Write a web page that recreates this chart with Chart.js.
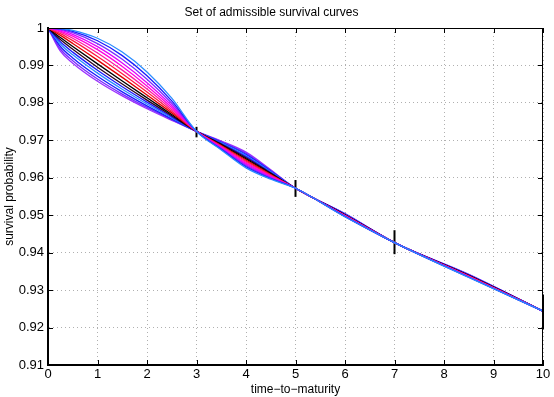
<!DOCTYPE html>
<html>
<head>
<meta charset="utf-8">
<script src="https://cdn.jsdelivr.net/npm/chart.js@4.4.1/dist/chart.umd.min.js"></script>
<style>
  html, body { margin: 0; padding: 0; background: #fff; }
  #wrap { width: 554px; height: 397px; }
</style>
</head>
<body>
<div id="wrap"><canvas id="survivalChart" width="554" height="397"></canvas></div>
<script>
// time grid (years) shared by all curves
var timeGrid = [0, 0.25, 0.5, 1, 1.5, 2, 2.5, 3, 3.5, 4, 4.5, 5, 6, 7, 8.5, 10];

// admissible survival curves (top curve near t=1 first)
var curve0  = [1, 0.99985, 0.99936, 0.99726, 0.99358, 0.98827, 0.98125, 0.9724, 0.96744, 0.96265, 0.95962, 0.9572, 0.94958, 0.9427, 0.93338, 0.9244];
var curve1  = [1, 0.99975, 0.99909, 0.99659, 0.99263, 0.98727, 0.98055, 0.9724, 0.96761, 0.96295, 0.95980, 0.9572, 0.94964, 0.9427, 0.93344, 0.9244];
var curve2  = [1, 0.99962, 0.99874, 0.99584, 0.99165, 0.98631, 0.97990, 0.9724, 0.96778, 0.96325, 0.95998, 0.9572, 0.94970, 0.9427, 0.93350, 0.9244];
var curve3  = [1, 0.99943, 0.99832, 0.99504, 0.99067, 0.98539, 0.97931, 0.9724, 0.96795, 0.96355, 0.96016, 0.9572, 0.94976, 0.9427, 0.93356, 0.9244];
var curve4  = [1, 0.99919, 0.99784, 0.99422, 0.98972, 0.98454, 0.97877, 0.9724, 0.96812, 0.96385, 0.96034, 0.9572, 0.94982, 0.9427, 0.93362, 0.9244];
var curve5  = [1, 0.99889, 0.99727, 0.99333, 0.98875, 0.98370, 0.97826, 0.9724, 0.96829, 0.96415, 0.96052, 0.9572, 0.94988, 0.9427, 0.93368, 0.9244];
var curve6  = [1, 0.99850, 0.99662, 0.99239, 0.98778, 0.98289, 0.97778, 0.9724, 0.96846, 0.96445, 0.96070, 0.9572, 0.94994, 0.9427, 0.93374, 0.9244];
var curve7  = [1, 0.99803, 0.99588, 0.99142, 0.98681, 0.98211, 0.97733, 0.9724, 0.96863, 0.96475, 0.96088, 0.9572, 0.95000, 0.9427, 0.93380, 0.9244];
var curve8  = [1, 0.99747, 0.99507, 0.99042, 0.98586, 0.98137, 0.97691, 0.9724, 0.96880, 0.96505, 0.96106, 0.9572, 0.95006, 0.9427, 0.93386, 0.9244];
var curve9  = [1, 0.99691, 0.99432, 0.98954, 0.98506, 0.98075, 0.97658, 0.9724, 0.96897, 0.96535, 0.96124, 0.9572, 0.95012, 0.9427, 0.93392, 0.9244];
var curve10 = [1, 0.99633, 0.99356, 0.98871, 0.98431, 0.98020, 0.97628, 0.9724, 0.96914, 0.96565, 0.96142, 0.9572, 0.95018, 0.9427, 0.93398, 0.9244];
var curve11 = [1, 0.99573, 0.99283, 0.98794, 0.98365, 0.97971, 0.97601, 0.9724, 0.96931, 0.96595, 0.96160, 0.9572, 0.95024, 0.9427, 0.93404, 0.9244];
var curve12 = [1, 0.99505, 0.99201, 0.98711, 0.98295, 0.97921, 0.97575, 0.9724, 0.96948, 0.96625, 0.96178, 0.9572, 0.95030, 0.9427, 0.93410, 0.9244];
var curve13 = [1, 0.99439, 0.99127, 0.98638, 0.98235, 0.97879, 0.97553, 0.9724, 0.96965, 0.96655, 0.96196, 0.9572, 0.95036, 0.9427, 0.93416, 0.9244];
var curve14 = [1, 0.99381, 0.99061, 0.98577, 0.98186, 0.97844, 0.97535, 0.9724, 0.96982, 0.96685, 0.96214, 0.9572, 0.95042, 0.9427, 0.93422, 0.9244];

var curveColors = ['#2a8cff', '#1a1aff', '#7a2cff', '#e000ff', '#ff00e0', '#ff1aa0', '#ff1a40', '#e00000',
                   '#000000', '#2a0020', '#1a1aff', '#2a8cff', '#1a1aff', '#7a2cff', '#9b30ff'];

// market quotes: bid/ask range of survival probability at the quoted maturities
var quoteTimes = [3, 5, 7, 10];
var quoteLow   = [0.9708, 0.9549, 0.9396, 0.9195];
var quoteHigh  = [0.9736, 0.9594, 0.9460, 0.9288];

var xTicks = [0, 1, 2, 3, 4, 5, 6, 7, 8, 9, 10];
var yTicks = [0.91, 0.92, 0.93, 0.94, 0.95, 0.96, 0.97, 0.98, 0.99, 1];

var allCurves = [curve0, curve1, curve2, curve3, curve4, curve5, curve6, curve7,
                 curve8, curve9, curve10, curve11, curve12, curve13, curve14];

var datasets = [];
for (var i = 0; i < allCurves.length; i++) {
    var pts = [];
    for (var j = 0; j < timeGrid.length; j++) {
        pts.push({x: timeGrid[j], y: allCurves[i][j]});
    }
    datasets.push({
        label: 'curve ' + (i + 1),
        data: pts,
        borderColor: curveColors[i],
        borderWidth: 1.3,
        pointRadius: 0,
        cubicInterpolationMode: 'monotone',
        fill: false
    });
}
// black vertical bars for the quotes
for (var k = 0; k < quoteTimes.length; k++) {
    datasets.push({
        label: 'quote ' + quoteTimes[k],
        data: [{x: quoteTimes[k], y: quoteLow[k]}, {x: quoteTimes[k], y: quoteHigh[k]}],
        borderColor: '#000000',
        borderWidth: 2,
        pointRadius: 0,
        clip: false,
        fill: false
    });
}

// matlab style box: top/right border + inward ticks
var boxPlugin = {
    id: 'matlabBox',
    afterDatasetsDraw: function(chart) {
        var ctx = chart.ctx, a = chart.chartArea;
        var xs = chart.scales.x, ys = chart.scales.y;
        ctx.save();
        ctx.strokeStyle = '#000';
        ctx.lineWidth = 1;
        ctx.beginPath();
        ctx.moveTo(a.left, a.top + 0.5); ctx.lineTo(a.right, a.top + 0.5);
        ctx.moveTo(a.right - 0.5, a.top); ctx.lineTo(a.right - 0.5, a.bottom);
        for (var i = 0; i < xs.ticks.length; i++) {
            var px = Math.round(xs.getPixelForTick(i)) + 0.5;
            ctx.moveTo(px, a.bottom); ctx.lineTo(px, a.bottom - 5);
            ctx.moveTo(px, a.top); ctx.lineTo(px, a.top + 5);
        }
        for (var j = 0; j < ys.ticks.length; j++) {
            var py = Math.round(ys.getPixelForTick(j)) + 0.5;
            ctx.moveTo(a.left, py); ctx.lineTo(a.left + 5, py);
            ctx.moveTo(a.right, py); ctx.lineTo(a.right - 5, py);
        }
        ctx.stroke();
        ctx.restore();
    }
};

var chart = new Chart(document.getElementById('survivalChart'), {
    type: 'line',
    data: { datasets: datasets },
    plugins: [boxPlugin],
    options: {
        responsive: false,
        animation: false,
        layout: { padding: { left: 0, right: 11, top: 0, bottom: 0 } },
        plugins: {
            legend: { display: false },
            tooltip: { enabled: false },
            title: {
                display: true,
                text: 'Set of admissible survival curves',
                color: '#000',
                font: { family: 'Liberation Sans', size: 12, weight: 'normal' },
                padding: { top: 5, bottom: 8.6 }
            }
        },
        scales: {
            x: {
                type: 'linear',
                min: 0, max: 10,
                afterBuildTicks: function(s) { s.ticks = xTicks.map(function(v) { return {value: v}; }); },
                afterFit: function(s) { s.height = 32; },
                ticks: { color: '#000', padding: 2, font: { family: 'Liberation Sans', size: 13 } },
                grid: { color: '#b0b0b0', lineWidth: 1, drawTicks: false, tickLength: 0 },
                border: { display: true, color: '#000', width: 2, dash: [1, 3] },
                title: { display: true, text: 'time\u2212to\u2212maturity', color: '#000',
                         font: { family: 'Liberation Sans', size: 12 }, padding: { top: 0, bottom: 0 } }
            },
            y: {
                type: 'linear',
                min: 0.91, max: 1,
                afterBuildTicks: function(s) { s.ticks = yTicks.map(function(v) { return {value: v}; }); },
                afterFit: function(s) { s.width = 48; },
                ticks: { color: '#000', padding: 4, font: { family: 'Liberation Sans', size: 13 },
                         callback: function(v) { return String(Math.round(v * 100) / 100); } },
                grid: { color: '#b0b0b0', lineWidth: 1, drawTicks: false, tickLength: 0 },
                border: { display: true, color: '#000', width: 2, dash: [1, 3] },
                title: { display: true, text: 'survival probability', color: '#000',
                         font: { family: 'Liberation Sans', size: 12 }, padding: { top: 2, bottom: 0 } }
            }
        }
    }
});
console.log('chart area', chart.chartArea);
</script>
</body>
</html>
